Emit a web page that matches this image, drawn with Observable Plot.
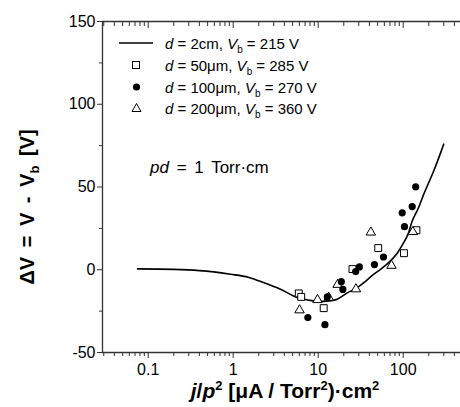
<!DOCTYPE html>
<html><head><meta charset="utf-8">
<script src="https://cdn.jsdelivr.net/npm/d3@7"></script>
<script src="https://cdn.jsdelivr.net/npm/@observablehq/plot@0.6"></script>
<style>
body{margin:0;background:#fff;}
#wrap{position:relative;width:460px;height:407px;font-family:"Liberation Sans",Arial,sans-serif;color:#000;}
.ov{position:absolute;white-space:nowrap;line-height:1;}
.leg{position:absolute;left:112px;top:33px;font-size:15px;}
.row{position:absolute;left:0;height:20px;width:240px;}
.row svg{position:absolute;left:0;top:0;}
.row span{position:absolute;left:53px;top:2px;white-space:nowrap;}
sub{font-size:10px;vertical-align:-4px;line-height:0;}
sup{font-size:13px;vertical-align:8px;line-height:0;}
</style></head><body><div id="wrap"></div>
<script>
// Simulated curve, d = 2 cm
const curveX = [0.075, 0.2, 0.4, 0.59, 0.93, 1.5, 2.27, 3.5, 5.66, 8, 10, 12.5, 16.7, 22, 28.8, 36, 45.1, 55, 70.9, 85, 101.6, 115, 127.6, 150, 174.6, 229, 300];
const curveY = [0.5, 0.2, -0.5, -1.3, -2.7, -4.5, -7.7, -11.5, -16.8, -18.5, -19.0, -19.0, -17.8, -14, -10.8, -7, -2.7, 0.5, 5.4, 10, 16.5, 22, 29.5, 37, 45.7, 59.8, 75.9];
// d = 50 um (open squares)
const sqX = [5.91, 6.31, 11.6, 25.3, 50.8, 102, 143];
const sqY = [-14.3, -16.4, -23.2, 0.4, 13.1, 10.0, 23.9];
// d = 100 um (filled circles)
const dotX = [7.55, 12.0, 12.8, 18.7, 19.5, 27.6, 30.5, 45.9, 58.6, 97.3, 103.5, 127.6, 140.3];
const dotY = [-28.9, -33.2, -16.3, -7.2, -11.9, -1.1, 1.7, 3.1, 7.7, 34.4, 26.0, 38.2, 50.1];
// d = 200 um (open triangles)
const triX = [6.03, 9.81, 13.3, 16.9, 27.8, 41.6, 72.8, 129.7];
const triY = [-24.4, -18.2, -16.8, -9.0, -11.7, 22.6, 2.5, 22.9];

const xMajor = [0.1, 1, 10, 100];
const xMajorLabels = ["0.1", "1", "10", "100"];
const xMinor = [0.03,0.04,0.05,0.06,0.07,0.08,0.09, 0.2,0.3,0.4,0.5,0.6,0.7,0.8,0.9, 2,3,4,5,6,7,8,9, 20,30,40,50,60,70,80,90, 200,300,400];
const yMajor = [-50, 0, 50, 100, 150];
const yMajorLabels = ["-50", "0", "50", "100", "150"];
const yMinor = [-25, 25, 75, 125];
const xDomain = [0.029, 472];
const yDomain = [-50, 150];

const curve = curveX.map((x, i) => ({x, y: curveY[i]}));
const sq = sqX.map((x, i) => ({x, y: sqY[i]}));
const dots = dotX.map((x, i) => ({x, y: dotY[i]}));
const tri = triX.map((x, i) => ({x, y: triY[i]}));

const axisColor = "#333";
const chart = Plot.plot({
  width: 460, height: 407,
  marginLeft: 102, marginRight: 0, marginTop: 21, marginBottom: 55,
  x: {type: "log", domain: xDomain},
  y: {domain: yDomain},
  style: {fontFamily: "'Liberation Sans', Arial, sans-serif", fontSize: "16px", color: "#000", background: "white", overflow: "visible"},
  marks: [
    Plot.ruleY([yDomain[0]], {stroke: axisColor, strokeWidth: 1.3}),
    Plot.ruleY([yDomain[1]], {stroke: axisColor, strokeWidth: 1.3}),
    Plot.ruleX([xDomain[0]], {stroke: axisColor, strokeWidth: 1.3}),
    Plot.axisX({ticks: xMajor, tickSize: 6, tickPadding: 5, tickFormat: d => xMajorLabels[xMajor.indexOf(d)], label: null, fontSize: 16, stroke: axisColor}),
    Plot.axisX({ticks: xMinor, tickSize: 4, tickFormat: () => "", label: null, stroke: axisColor}),
    Plot.axisX({anchor: "top", ticks: xMajor, tickSize: 6, dy: 6, tickFormat: () => "", label: null, stroke: axisColor}),
    Plot.axisX({anchor: "top", ticks: xMinor, tickSize: 4, dy: 4, tickFormat: () => "", label: null, stroke: axisColor}),
    Plot.axisY({ticks: yMajor, tickSize: 5, tickPadding: 2, tickFormat: d => yMajorLabels[yMajor.indexOf(d)], label: null, fontSize: 16, stroke: axisColor}),
    Plot.axisY({ticks: yMinor, tickSize: 3, tickFormat: () => "", label: null, stroke: axisColor}),
    Plot.line(curve, {x: "x", y: "y", stroke: "#000", strokeWidth: 1.6, curve: "catmull-rom"}),
    Plot.dot(sq, {x: "x", y: "y", symbol: "square", r: 3.9, stroke: "#000", strokeWidth: 1, fill: "white"}),
    Plot.dot(tri, {x: "x", y: "y", symbol: "triangle", r: 3.5, stroke: "#000", strokeWidth: 1, fill: "white"}),
    Plot.dot(dots, {x: "x", y: "y", symbol: "circle", r: 3.6, fill: "#000", stroke: "none"})
  ]
});
const wrap = document.getElementById("wrap");
wrap.appendChild(chart);

function add(html, css, cls) {
  const d = document.createElement("div");
  d.className = cls || "ov";
  d.innerHTML = html;
  Object.assign(d.style, css);
  wrap.appendChild(d);
  return d;
}
// y label
add('&Delta;V = V - V<sub style="font-size:13px;vertical-align:-5px">b</sub> [V]',
  {left: "27px", top: "207px", fontSize: "20px", fontWeight: "bold", wordSpacing: "4px", transform: "translate(-50%,-50%) rotate(-90deg)"});
// x label
add('<i>j</i>/<i>p</i><sup>2</sup> [&mu;A / Torr<sup>2</sup>)&middot;cm<sup>2</sup>',
  {left: "285px", top: "380px", fontSize: "21px", fontWeight: "bold", transform: "translateX(-50%)"});
// annotation
add('<i>pd</i> = 1 Torr&middot;cm', {left: "150px", top: "159px", fontSize: "17px", wordSpacing: "3px"});

// legend
const leg = add('', {}, 'leg');
const rows = [
  {sym: '<line x1="7" y1="10" x2="41" y2="10" stroke="#000" stroke-width="1.6"/>', txt: '<i>d</i> = 2cm, <i>V</i><sub>b</sub> = 215 V'},
  {sym: '<rect x="20.5" y="6.5" width="7" height="7" fill="white" stroke="#000"/>', txt: '<i>d</i> = 50&mu;m, <i>V</i><sub>b</sub> = 285 V'},
  {sym: '<circle cx="24.5" cy="10" r="3.6" fill="#000"/>', txt: '<i>d</i> = 100&mu;m, <i>V</i><sub>b</sub> = 270 V'},
  {sym: '<path d="M24.5,5.5 L29,13.5 L20,13.5 Z" fill="white" stroke="#000"/>', txt: '<i>d</i> = 200&mu;m, <i>V</i><sub>b</sub> = 360 V'}
];
const tops = [0, 22, 44, 65];
rows.forEach((r, i) => {
  const d = document.createElement("div");
  d.className = "row";
  d.style.top = tops[i] + "px";
  d.innerHTML = '<svg width="50" height="20">' + r.sym + '</svg><span>' + r.txt + '</span>';
  leg.appendChild(d);
});
</script>
</body></html>
